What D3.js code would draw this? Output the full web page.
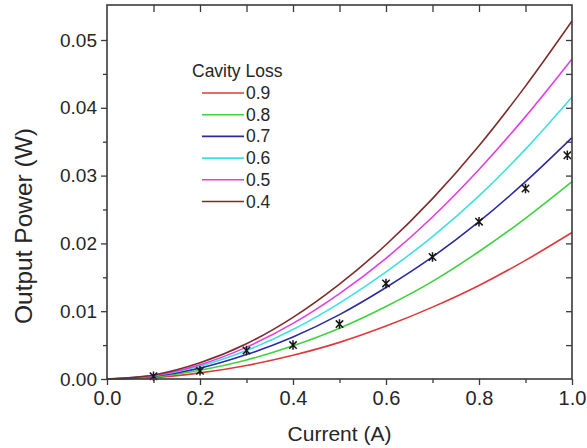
<!DOCTYPE html>
<html><head><meta charset="utf-8">
<script src="https://cdn.jsdelivr.net/npm/d3@7"></script>
<style>
body{margin:0;background:#fff}
svg{display:block}
text{font-family:"Liberation Sans",Arial,Helvetica,sans-serif;fill:#262626}
</style>
</head><body>
<svg id="chart" width="587" height="448"></svg>
<script>
// ---- data ----
const currents = [0, 0.1, 0.2, 0.3, 0.4, 0.5, 0.6, 0.7, 0.8, 0.9, 1.0];
const lossLabels = ["0.9", "0.8", "0.7", "0.6", "0.5", "0.4"];
const power09 = [0, 0.0002, 0.0009, 0.0020, 0.0035, 0.0054, 0.0078, 0.0106, 0.0138, 0.0175, 0.0216];
const power08 = [0, 0.0003, 0.0013, 0.0028, 0.0049, 0.0075, 0.0107, 0.0144, 0.0188, 0.0237, 0.0291];
const power07 = [0, 0.0004, 0.0016, 0.0036, 0.0062, 0.0095, 0.0135, 0.0180, 0.0232, 0.0291, 0.0356];
const power06 = [0, 0.0005, 0.0019, 0.0042, 0.0073, 0.0112, 0.0158, 0.0210, 0.0270, 0.0339, 0.0416];
const power05 = [0, 0.0005, 0.0021, 0.0047, 0.0082, 0.0126, 0.0178, 0.0239, 0.0309, 0.0387, 0.0472];
const power04 = [0, 0.0006, 0.0024, 0.0052, 0.0091, 0.0140, 0.0198, 0.0266, 0.0344, 0.0432, 0.0528];
const measuredCurrent = [0.1, 0.2, 0.3, 0.4, 0.5, 0.6, 0.7, 0.8, 0.9, 0.99];
const measuredPower = [0.0004, 0.0012, 0.0042, 0.0050, 0.0081, 0.0141, 0.0180, 0.0232, 0.0281, 0.0330];
const xTickValues = [0, 0.2, 0.4, 0.6, 0.8, 1.0];
const yTickValues = [0, 0.01, 0.02, 0.03, 0.04, 0.05];
const legendTitle = "Cavity Loss";
const xTitle = "Current (A)";
const yTitle = "Output Power (W)";

// ---- styles ----
const seriesValues = [power09, power08, power07, power06, power05, power04];
const seriesColors = ["#e0393b", "#3fd23f", "#2b2ba3", "#3fe0e0", "#e03fe0", "#7e2b2b"];

const svg = d3.select("#chart");
const L = 107, R = 572, T = 5, B = 379;
const x = d3.scaleLinear().domain([0, 1]).range([L, R]);
const y = d3.scaleLinear().domain([0, 0.05]).range([B, 40]);

const axisColor = "#3a3a3a";

// curves
const line = d3.line().x(d => x(d[0])).y(d => y(d[1])).curve(d3.curveMonotoneX);
seriesValues.forEach((vals, i) => {
  svg.append("path")
    .datum(currents.map((c, j) => [c, vals[j]]))
    .attr("d", line)
    .attr("fill", "none")
    .attr("stroke", seriesColors[i])
    .attr("stroke-width", 1.6);
});

// measured stars: vertical bar plus an X
const starType = {
  draw(ctx, size) {
    const r = Math.sqrt(size) / 2;
    const d = r * 0.78;
    ctx.moveTo(0, -r); ctx.lineTo(0, r);
    ctx.moveTo(-d, -d); ctx.lineTo(d, d);
    ctx.moveTo(-d, d); ctx.lineTo(d, -d);
  }
};
const star = d3.symbol().type(starType).size(90);
const starData = measuredCurrent.map((c, i) => [c, measuredPower[i]]);
svg.append("g").selectAll("path")
  .data(starData)
  .join("path")
  .attr("transform", d => `translate(${x(d[0])},${y(d[1])})`)
  .attr("d", star)
  .attr("fill", "none")
  .attr("stroke", "#151515")
  .attr("stroke-width", 1.5);

// axes
const xMinor = d3.range(0.1, 1, 0.2);
const yMinor = d3.range(0.005, 0.055, 0.01);

const gBottom = svg.append("g").attr("transform", `translate(0,${B})`)
  .call(d3.axisBottom(x).tickValues(xTickValues).tickFormat(d3.format(".1f")).tickSize(6).tickPadding(6));
const gBottomMinor = svg.append("g").attr("transform", `translate(0,${B})`)
  .call(d3.axisBottom(x).tickValues(xMinor).tickFormat("").tickSize(4));
const gLeft = svg.append("g").attr("transform", `translate(${L},0)`)
  .call(d3.axisLeft(y).tickValues(yTickValues).tickFormat(d3.format(".2f")).tickSize(6).tickPadding(4));
const gLeftMinor = svg.append("g").attr("transform", `translate(${L},0)`)
  .call(d3.axisLeft(y).tickValues(yMinor).tickFormat("").tickSize(4));
const gTop = svg.append("g").attr("transform", `translate(0,${T})`)
  .call(d3.axisTop(x).tickValues(d3.range(0.1, 1, 0.1)).tickFormat("").tickSize(-7));
const gRight = svg.append("g").attr("transform", `translate(${R},0)`)
  .call(d3.axisRight(y).tickValues(d3.range(0.005, 0.055, 0.005)).tickFormat("").tickSize(-6));

[gBottom, gBottomMinor, gLeft, gLeftMinor, gTop, gRight].forEach(g => {
  g.select(".domain").remove();
  g.selectAll("line").attr("stroke", axisColor).attr("stroke-width", 1.3);
});
gBottom.selectAll("text").style("font-size", "20px").attr("fill", "#262626");
gLeft.selectAll("text").style("font-size", "19px").attr("fill", "#262626");

// frame
svg.append("rect").attr("x", L).attr("y", T).attr("width", R - L).attr("height", B - T)
  .attr("fill", "none").attr("stroke", axisColor).attr("stroke-width", 1.6);

// titles
svg.append("text").attr("x", (L + R) / 2).attr("y", 441).attr("text-anchor", "middle")
  .style("font-size", "21px").text(xTitle);
svg.append("text").attr("transform", `translate(32,${(T + B) / 2 + 34}) rotate(-90)`)
  .attr("text-anchor", "middle").style("font-size", "24.5px").text(yTitle);

// legend
const lg = svg.append("g");
lg.append("text").attr("x", 192).attr("y", 77).style("font-size", "17.5px").text(legendTitle);
lossLabels.forEach((lab, i) => {
  const yy = 93 + i * 21.7;
  lg.append("line").attr("x1", 202).attr("x2", 244).attr("y1", yy).attr("y2", yy)
    .attr("stroke", seriesColors[i]).attr("stroke-width", 1.6);
  lg.append("text").attr("x", 246).attr("y", yy + 6).style("font-size", "17.5px").text(lab);
});
</script>
</body></html>
